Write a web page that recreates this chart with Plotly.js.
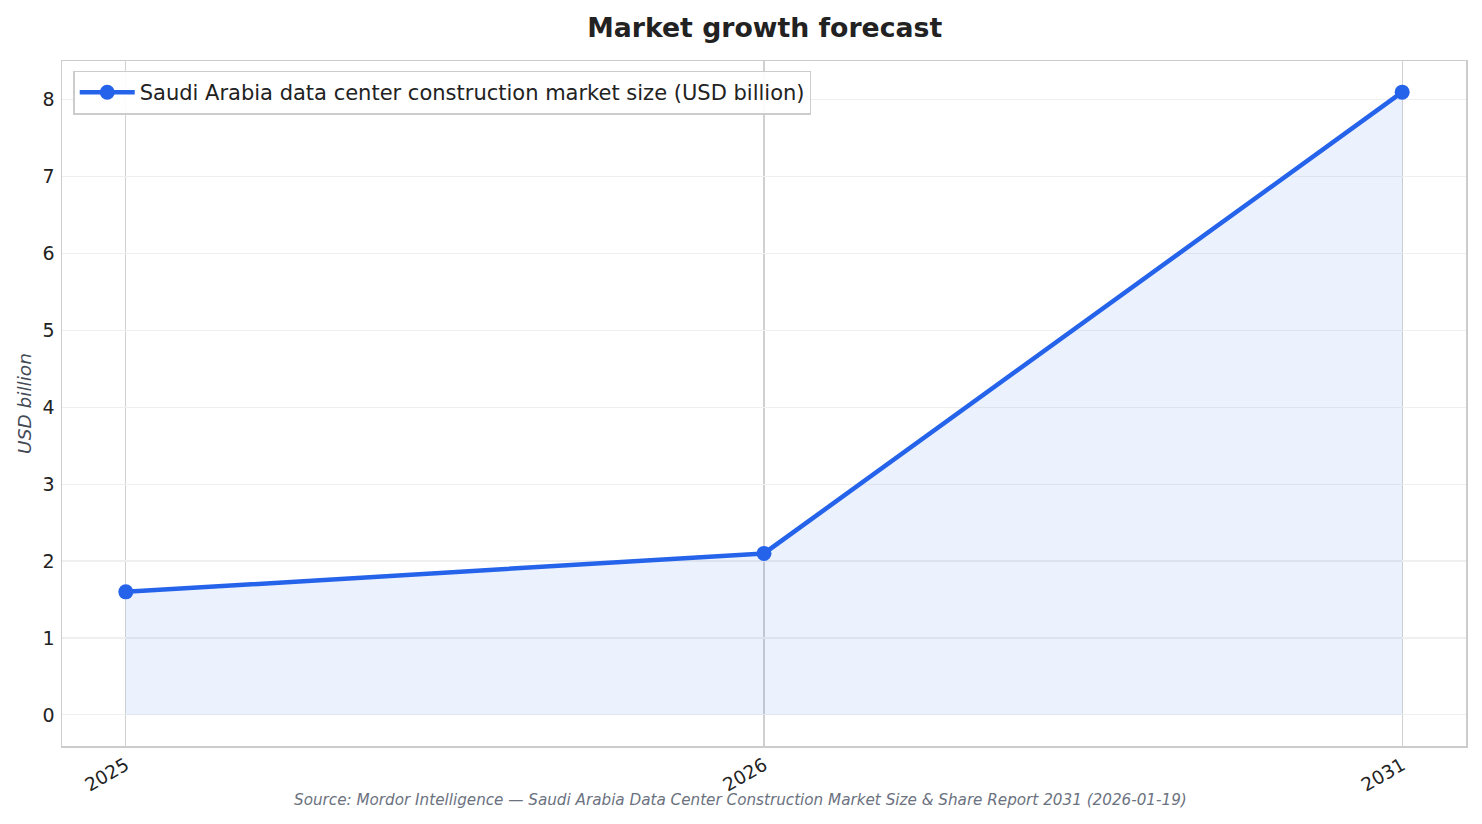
<!DOCTYPE html>
<html>
<head>
<meta charset="utf-8">
<script src="https://cdn.plot.ly/plotly-3.0.1.min.js"></script>
<style>html,body{margin:0;padding:0;background:#fff;}#chart{width:1482px;height:824px;}</style>
</head>
<body>
<div id="chart"></div>
<script>
const years = ["2025", "2026", "2031"];
const marketSize = [1.6, 2.1, 8.1];
const seriesName = "Saudi Arabia data center construction market size (USD billion)";
const chartTitle = "Market growth forecast";
const yTitle = "USD billion";
const sourceText = "Source: Mordor Intelligence — Saudi Arabia Data Center Construction Market Size & Share Report 2031 (2026-01-19)";

const FONT = "DejaVu Sans, Verdana, sans-serif";

const traces = [
  {
    x: years, y: marketSize, type: "scatter", mode: "lines",
    fill: "tozeroy", fillcolor: "rgba(37,99,235,0.09)",
    line: {color: "rgba(37,99,235,0.12)", width: 1.5},
    showlegend: false, hoverinfo: "skip"
  },
  {
    x: years, y: marketSize, type: "scatter", mode: "lines+markers",
    name: seriesName,
    line: {color: "#2563eb", width: 4.5},
    marker: {color: "#2563eb", size: 15}
  }
];

const layout = {
  width: 1482, height: 824,
  paper_bgcolor: "#ffffff", plot_bgcolor: "#ffffff",
  margin: {l: 62, r: 16, t: 61, b: 78},
  font: {family: FONT, color: "#222222", size: 19},
  title: {text: "<b>" + chartTitle + "</b>", x: 0.516, xanchor: "center", y: 0.967, yanchor: "middle",
          font: {family: FONT, size: 26.7, color: "#222222"}},
  xaxis: {
    type: "category", range: [-0.1, 2.1],
    showgrid: true, gridcolor: "#d0d0d0", gridwidth: 1.2,
    zeroline: false, showline: true, linecolor: "#cccccc", linewidth: 1.5, mirror: true,
    ticks: "", tickangle: -30, tickfont: {size: 18.5, color: "#222222"},
    automargin: false
  },
  yaxis: {
    range: [-0.405, 8.505], dtick: 1, tick0: 0,
    showgrid: true, gridcolor: "#efefef", gridwidth: 1.2,
    zeroline: false, showline: true, linecolor: "#cccccc", linewidth: 1.5, mirror: true,
    ticks: "outside", ticklen: 2, tickcolor: "rgba(0,0,0,0)", tickfont: {size: 19, color: "#222222"},
    title: {text: "<i>" + yTitle + "</i>", standoff: 6, font: {size: 18.5, color: "#444a55"}},
    automargin: false
  },
  legend: {
    x: 0.008, y: 0.986, xanchor: "left", yanchor: "top",
    bgcolor: "rgba(255,255,255,0.9)", bordercolor: "#cccccc", borderwidth: 1.5,
    font: {size: 21, color: "#222222"}, itemwidth: 55, tracegroupgap: 0
  },
  annotations: [{
    text: "<i>" + sourceText + "</i>", xref: "paper", yref: "paper",
    x: 0.483, y: -0.079, xanchor: "center", yanchor: "middle", showarrow: false,
    font: {size: 15.2, color: "#6b7280", family: FONT}
  }],
  showlegend: true
};

Plotly.newPlot("chart", traces, layout, {displayModeBar: false, staticPlot: true});
</script>
</body>
</html>
